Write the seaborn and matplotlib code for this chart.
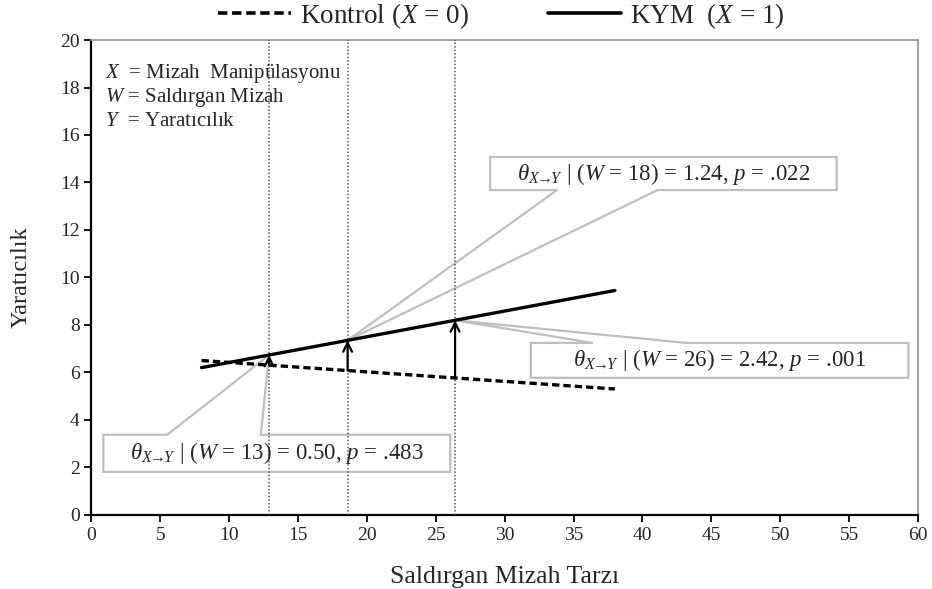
import numpy as np
import pandas as pd
import matplotlib.pyplot as plt
from matplotlib.patches import Polygon
from matplotlib.lines import Line2D
import seaborn as sns

# conditional effect plot: endpoints of the two simple slopes
w_range = [8, 38]
kontrol_y = [6.5, 5.3]
kym_y = [6.2, 9.45]

# probe points (Johnson-Neyman style picks) and their effects
w_probe = [12.9, 18.6, 26.4]
probe_w_label = [13, 18, 26]
probe_effect = [0.50, 1.24, 2.42]
probe_p = [".483", ".022", ".001"]

x_ticks = list(range(0, 61, 5))
y_ticks = list(range(0, 21, 2))

sns.set_theme(style="white")
plt.rcParams['font.family'] = ['Liberation Serif', 'DejaVu Serif']
plt.rcParams['mathtext.fontset'] = 'custom'
plt.rcParams['mathtext.rm'] = 'Liberation Serif'
plt.rcParams['mathtext.it'] = 'Liberation Serif:italic'

df = pd.DataFrame({
    "W": w_range * 2,
    "Y": kontrol_y + kym_y,
    "grup": ["Kontrol"] * 2 + ["KYM"] * 2,
})

fig = plt.figure(figsize=(9.32, 5.89), dpi=100)
ax = fig.add_axes([0.098, 0.126, 0.887, 0.806])

sns.lineplot(data=df, x="W", y="Y", style="grup", style_order=["Kontrol", "KYM"],
             dashes={"Kontrol": (2.2, 1.2), "KYM": ""}, color="black",
             linewidth=2.4, legend=False, ax=ax, zorder=4)

# vertical dotted reference lines at probe values
for w in w_probe:
    ax.axvline(w, color="#555555", linestyle=(0, (1, 1.3)), linewidth=1.1, zorder=3)

# arrows from control line to KYM line
ctrl_at = np.interp(w_probe, w_range, kontrol_y)
kym_at = np.interp(w_probe, w_range, kym_y)
for w, c, k in zip(w_probe, ctrl_at, kym_at):
    ax.annotate("", xy=(w, k), xytext=(w, c),
                arrowprops=dict(arrowstyle="->", lw=1.6, color="black",
                                mutation_scale=16, shrinkA=0, shrinkB=0),
                zorder=5)

# callout boxes: (x0, x1, y_bottom, y_top, base1, base2, wedge side, probe index)
callouts = [
    (28.95, 54.1, 13.68, 15.07, 33.8, 41.1, "bottom", 1),
    (31.9, 59.3, 5.77, 7.24, 36.4, 43.2, "top", 2),
    (0.87, 26.05, 1.81, 3.37, 5.5, 12.3, "top", 0),
]
for x0, x1, yb, yt, b1, b2, side, i in callouts:
    tip = (w_probe[i], kym_at[i])
    if side == "bottom":
        pts = [(x0, yt), (x1, yt), (x1, yb), (b2, yb), tip, (b1, yb), (x0, yb)]
    else:
        pts = [(x0, yb), (x0, yt), (b1, yt), tip, (b2, yt), (x1, yt), (x1, yb)]
    ax.add_patch(Polygon(pts, closed=True, facecolor="white", edgecolor="#BFBFBF",
                         linewidth=1.6, zorder=2))
    label = (r"$\theta_{X\!\!\rightarrow\!\!Y}$ | ($W$ = %d) = %.2f, $p$ = %s"
             % (probe_w_label[i], probe_effect[i], probe_p[i]))
    ax.text((x0 + x1) / 2, (yb + yt) / 2, label, ha="center", va="center",
            fontsize=16.5, zorder=6)

# variable key in the top-left corner
key_lines = [r"$X$  = Mizah  Manipülasyonu", r"$W$ = Saldırgan Mizah", r"$Y$  = Yaratıcılık"]
for j, s in enumerate(key_lines):
    ax.text(1.0, 18.6 - j * 1.01, s, fontsize=15, va="center", ha="left", zorder=6)

ax.set_xlim(0, 60)
ax.set_ylim(0, 20)
ax.set_xticks(x_ticks)
ax.set_yticks(y_ticks)
ax.tick_params(axis="both", direction="out", length=5, width=1.3, color="black",
               labelsize=14, bottom=True, left=True)
ax.set_xlabel("Saldırgan Mizah Tarzı", fontsize=18.5)
ax.set_ylabel("Yaratıcılık", fontsize=17.5)
ax.xaxis.set_label_coords(0.5, -0.108)
ax.yaxis.set_label_coords(-0.072, 0.5)

for side in ["left", "bottom"]:
    ax.spines[side].set_color("black")
    ax.spines[side].set_linewidth(1.6)
for side in ["top", "right"]:
    ax.spines[side].set_color("#9A9A9A")
    ax.spines[side].set_linewidth(1.3)

handles = [Line2D([], [], color="black", lw=2.6, dashes=(2.6, 1.3)),
           Line2D([], [], color="black", lw=2.6)]
fig.legend(handles, [r"Kontrol ($X$ = 0)", r"KYM  ($X$ = 1)"], loc="center",
           bbox_to_anchor=(0.538, 0.973), ncol=2, frameon=False, fontsize=19.5,
           handlelength=2.7, columnspacing=2.9, handletextpad=0.35)

fig.savefig("out.png", dpi=100)
